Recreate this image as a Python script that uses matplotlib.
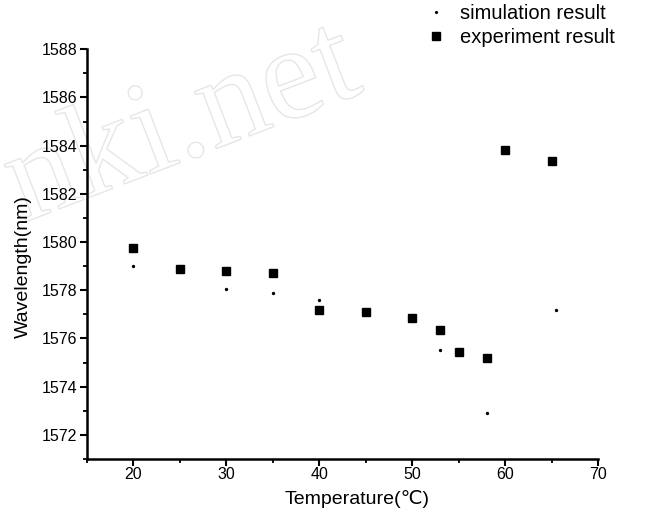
import matplotlib
matplotlib.use("Agg")
import matplotlib.pyplot as plt
import matplotlib.patheffects as pe
from matplotlib.ticker import MultipleLocator

plt.rcParams['font.family'] = ['Liberation Sans', 'DejaVu Sans']

# datos experimentales (cuadrados)
temp_exp = [20, 25, 30, 35, 40, 45, 50, 53, 55, 58, 60, 65]
onda_exp = [1579.75, 1578.9, 1578.8, 1578.7, 1577.2, 1577.1, 1576.85, 1576.35, 1575.45, 1575.2, 1583.8, 1583.35]

# datos de simulacion (puntos pequenos)
temp_sim = [20, 30, 35, 40, 53, 58, 65.5]
onda_sim = [1579.0, 1578.05, 1577.9, 1577.6, 1575.5, 1572.9, 1577.2]

fig = plt.figure(figsize=(6.69, 5.18), dpi=100)
ax = fig.add_axes([0.130, 0.114, 0.764, 0.791])
ax.patch.set_alpha(0)

# marca de agua (solo contorno)
fig.text(0.035, 0.57, "nki.net", fontsize=96, family='Liberation Serif',
         color=(1, 1, 1, 0), rotation=21, rotation_mode='anchor',
         ha='left', va='baseline', zorder=-1,
         path_effects=[pe.Stroke(linewidth=1.0, foreground='#e6e6e6')])

ax.plot(temp_sim, onda_sim, 'o', color='black', markersize=1.4, label='simulation result')
ax.plot(temp_exp, onda_exp, 's', color='black', markersize=6, label='experiment result')

ax.set_xlim(15, 70)
ax.set_ylim(1571, 1588)
ax.xaxis.set_minor_locator(MultipleLocator(5))
ax.yaxis.set_minor_locator(MultipleLocator(1))
ax.set_yticks(range(1572, 1589, 2))
ax.set_xticks(range(20, 71, 10))

ax.spines['top'].set_visible(False)
ax.spines['right'].set_visible(False)
ax.spines['left'].set_linewidth(1.8)
ax.spines['bottom'].set_linewidth(1.8)
ax.tick_params(which='major', direction='out', length=5, width=1.5, labelsize=11.5, pad=2)
ax.tick_params(axis='x', which='major', pad=0.5)
ax.tick_params(which='minor', direction='out', length=3, width=1.3)

ax.set_xlabel("Temperature(\u2103)", fontsize=14)
ax.set_ylabel("Wavelength(nm)", fontsize=14)
ax.xaxis.set_label_coords(0.528, -0.075)
ax.yaxis.set_label_coords(-0.108, 0.47)

fig.legend(loc='upper left', bbox_to_anchor=(0.625, 1.008), frameon=False,
           fontsize=14.5, handletextpad=0.7, labelspacing=0.25, borderaxespad=0.0,
           handlelength=1.0, markerscale=0.9)

fig.savefig("out.png", dpi=100)
